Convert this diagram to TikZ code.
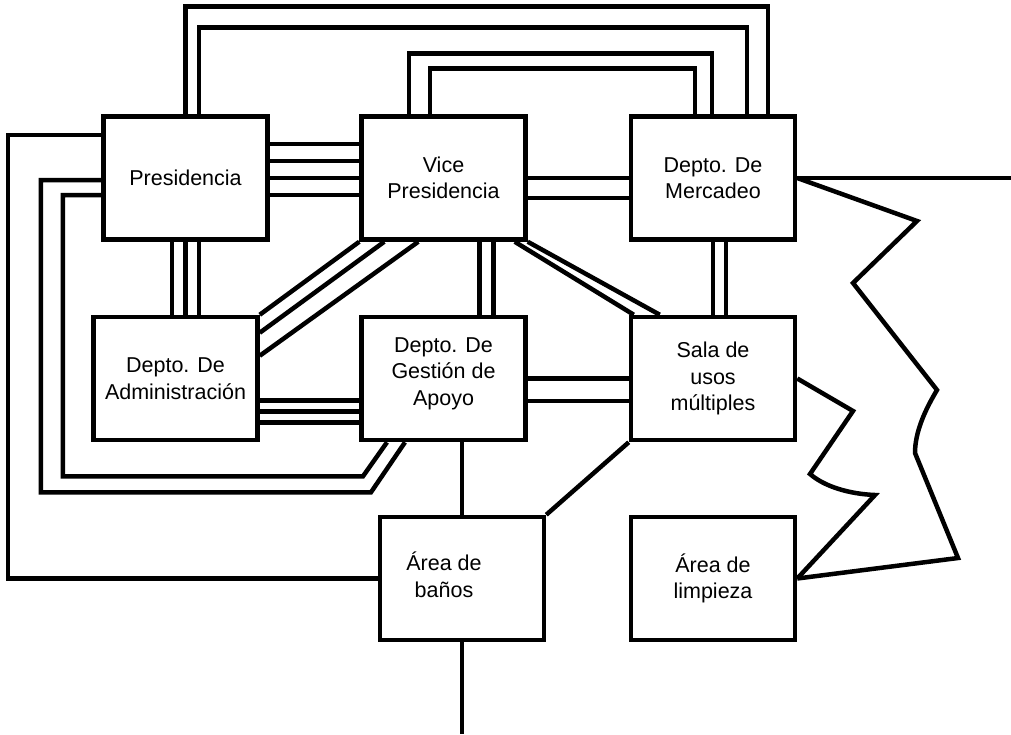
\documentclass[tikz,border=0pt]{standalone}
\usepackage{fontspec}
\setmainfont{Liberation Sans}
\usetikzlibrary{calc}

\begin{document}
\begin{tikzpicture}[x=1pt, y={(0pt,-1pt)}, line width=4.5pt,
    font=\fontsize{21.5}{26.5}\selectfont,
    box/.style={draw, align=center, inner sep=0pt, minimum width=164pt, minimum height=123pt}]
    \useasboundingbox (0,0) rectangle (1011,734);

    \node[box] (pres)   at (185.5,178) {Presidencia};
    \node[box] (vice)   at (443.5,178) {Vice\\ Presidencia};
    \node[box] (merc)   at (713,178)   {Depto. De\\ Mercadeo};
    \node[box] (admin)  at (175.5,378.5) {Depto. De\\ Administración};
    \node[box, text depth=14pt] (gest) at (443.5,378.5) {Depto. De\\ Gestión de\\ Apoyo};
    \node[box] (sala)   at (713,378.5) {Sala de\\ usos\\ múltiples};
    \node[box] (banos)  at (462,578.5)
         {\begin{tabular}{@{}c@{}}Área de\\ baños\end{tabular}\kern36pt};
    \node[box] (limp)   at (713,578.5) {Área de\\ limpieza};
    \coordinate (abajo)   at (462,734);
    \coordinate (derecha) at (1011,178);

    \draw (pres.north) -- ++(0,-108) -| ($(merc.north)+(55,0)$);
    \draw ($(pres.north)+(13.5,0)$) -- ++(0,-87) -| ($(merc.north)+(34,0)$);
    \draw ($(vice.north)+(-34.5,0)$) -- ++(0,-61) -| ($(merc.north)+(-1,0)$);
    \draw ($(vice.north)+(-13.5,0)$) -- ++(0,-46) -| ($(merc.north)+(-18,0)$);

    \draw ($(pres.west)+(0,-43)$) -- ++(-93.5,0) |- (banos.west);
    \draw ($(pres.west)+(0,2)$) -- ++(-60.5,0) |- ($(gest.south)+(-72.5,50)$) -- ($(gest.south)+(-38.5,0)$);
    \draw ($(pres.west)+(0,17)$) -- ++(-38.5,0) |- ($(gest.south)+(-80.5,34)$) -- ($(gest.south)+(-56.5,0)$);

    \foreach \dy in {-34,-17,0,17}
        \draw ($(pres.east)+(0,\dy)$) coordinate (p) -- (p -| vice.west);
    \foreach \dy in {0,20}
        \draw ($(vice.east)+(0,\dy)$) coordinate (p) -- (p -| merc.west);
    \foreach \dx in {-13.5,0,13.5}
        \draw ($(pres.south)+(\dx,0)$) coordinate (p) -- (p |- admin.north);
    \foreach \dx in {36,50}
        \draw ($(vice.south)+(\dx,0)$) coordinate (p) -- (p |- gest.north);
    \foreach \dx in {0,13}
        \draw ($(merc.south)+(\dx,0)$) coordinate (p) -- (p |- sala.north);
    \foreach \dy in {22,33,44}
        \draw ($(admin.east)+(0,\dy)$) coordinate (p) -- (p -| gest.west);
    \foreach \dy in {0,22.5}
        \draw ($(gest.east)+(0,\dy)$) coordinate (p) -- (p -| sala.west);

    \draw (vice.south west) -- (admin.north east);
    \draw ($(vice.south west)+(25,0)$) -- ($(admin.north east)+(0,18)$);
    \draw ($(vice.south west)+(59,0)$) -- ($(admin.north east)+(0,41)$);
    \draw ($(vice.south east)+(-13,0)$) -- ($(sala.north west)+(5,0)$);
    \draw (vice.south east) -- ($(sala.north west)+(31,0)$);

    \draw (gest.south -| banos.north) -- (banos.north);
    \draw (sala.south west) -- (banos.north east);
    \draw (banos.south) -- (abajo);
    \draw (merc.east) -- (derecha);

    \draw (merc.east) -- (917,221) -- (853,283) -- (937,390)
        .. controls (925,410) and (915,432) .. (915,453) -- (958,558) -- (limp.east);
    \draw (sala.east) -- (853,411) -- (810,474)
        .. controls (825,487) and (850,494) .. (875,495) -- (limp.east);
\end{tikzpicture}
\end{document}
